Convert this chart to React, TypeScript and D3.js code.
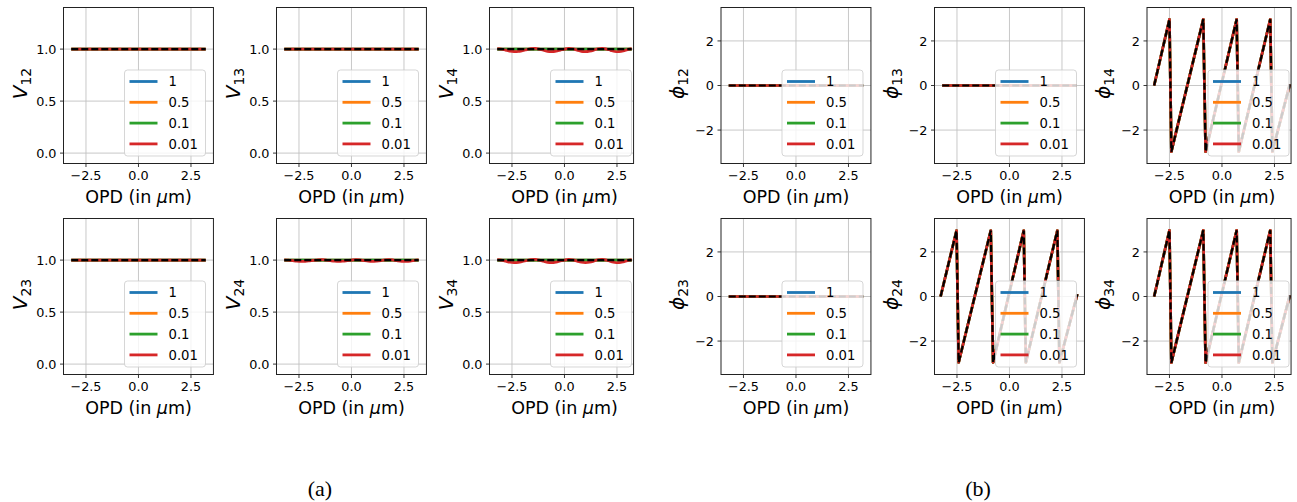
import React from 'react';
import * as d3 from 'd3';

// ---------- data ----------
const OPD = [-3.2, -3.0, -2.8, -2.6, -2.4, -2.2, -2.0, -1.8, -1.6, -1.4, -1.2, -1.0, -0.8, -0.6, -0.4, -0.2, 0.0,
  0.2, 0.4, 0.6, 0.8, 1.0, 1.2, 1.4, 1.6, 1.8, 2.0, 2.2, 2.4, 2.6, 2.8, 3.0, 3.2];

const V_ONE = [1, 1, 1, 1, 1, 1, 1, 1, 1, 1, 1, 1, 1, 1, 1, 1, 1, 1, 1, 1, 1, 1, 1, 1, 1, 1, 1, 1, 1, 1, 1, 1, 1];

const V14_RED = [1.005, 1.0, 0.99, 0.98, 0.975, 0.977, 0.985, 0.995, 1.005, 1.008, 1.0, 0.99, 0.978, 0.975, 0.98,
  0.99, 1.0, 1.008, 1.003, 0.99, 0.978, 0.975, 0.98, 0.99, 1.003, 1.008, 1.0, 0.988, 0.977, 0.975, 0.982, 0.995, 1.005];
const V24_RED = [1.003, 1.0, 0.995, 0.99, 0.987, 0.988, 0.992, 0.997, 1.003, 1.005, 1.0, 0.994, 0.989, 0.987, 0.99,
  0.995, 1.0, 1.005, 1.002, 0.995, 0.989, 0.987, 0.99, 0.995, 1.002, 1.005, 1.0, 0.993, 0.988, 0.987, 0.99, 0.997, 1.003];
const V34_RED = [1.004, 1.0, 0.99, 0.979, 0.975, 0.978, 0.986, 0.996, 1.005, 1.007, 1.0, 0.989, 0.978, 0.975, 0.981,
  0.991, 1.0, 1.007, 1.002, 0.99, 0.979, 0.975, 0.979, 0.99, 1.003, 1.007, 1.0, 0.987, 0.977, 0.975, 0.983, 0.995, 1.004];

const PHI_ZERO = [0, 0, 0, 0, 0, 0, 0, 0, 0, 0, 0, 0, 0, 0, 0, 0, 0, 0, 0, 0, 0, 0, 0, 0, 0, 0, 0, 0, 0, 0, 0, 0, 0];

const SAW14_X = [-3.23, -2.5, -2.41, -0.89, -0.78, 0.7, 0.8, 2.3, 2.4, 3.23];
const SAW14_Y = [0, 2.97, -2.97, 2.97, -2.97, 2.97, -2.97, 2.97, -2.97, 0.05];
const SAW24_X = [-3.28, -2.52, -2.42, -0.89, -0.78, 0.68, 0.78, 2.28, 2.38, 3.23];
const SAW24_Y = [0, 2.96, -2.96, 2.96, -2.96, 2.96, -2.96, 2.96, -2.96, 0.1];
const SAW34_X = [-3.23, -2.5, -2.41, -0.89, -0.78, 0.7, 0.8, 2.3, 2.4, 3.23];
const SAW34_Y = [0, 2.97, -2.97, 2.97, -2.97, 2.97, -2.97, 2.97, -2.97, 0.05];

const LEGEND_LABELS = ['1', '0.5', '0.1', '0.01'];
const SERIES_COLORS = ['#1f77b4', '#ff7f0e', '#2ca02c', '#d62728'];

const X_TICKS = [-2.5, 0, 2.5];
const X_TICK_LABELS = ['\u22122.5', '0.0', '2.5'];
const V_TICKS = [0, 0.5, 1.0];
const V_TICK_LABELS = ['0.0', '0.5', '1.0'];
const PHI_TICKS = [-2, 0, 2];
const PHI_TICK_LABELS = ['\u22122', '0', '2'];

type Panel = {
  id: string; kind: 'V' | 'phi'; sub: string; left: number; top: number; right: number; xmax: number;
  xs: number[]; colored: number[][]; truth: number[];
};

const ROW_TOPS = [7.5, 218.5];
const PANEL_H = 156;
const PX_PER_UNIT = 21;
const XMIN = -3.57;

function mk(id: string, kind: 'V' | 'phi', sub: string, left: number, row: number, third: boolean,
  xs: number[], colored: number[][], truth: number[]): Panel {
  const xmax = third ? 3.29 : 3.57;
  return { id, kind, sub, left, top: ROW_TOPS[row], right: left + (xmax - XMIN) * PX_PER_UNIT, xmax, xs, colored, truth };
}

const PANELS: Panel[] = [
  mk('v12', 'V', '12', 63.5, 0, false, OPD, [V_ONE, V_ONE, V_ONE, V_ONE], V_ONE),
  mk('v13', 'V', '13', 276.5, 0, false, OPD, [V_ONE, V_ONE, V_ONE, V_ONE], V_ONE),
  mk('v14', 'V', '14', 489.5, 0, true, OPD, [V_ONE, V_ONE, V_ONE, V14_RED], V_ONE),
  mk('v23', 'V', '23', 63.5, 1, false, OPD, [V_ONE, V_ONE, V_ONE, V_ONE], V_ONE),
  mk('v24', 'V', '24', 276.5, 1, false, OPD, [V_ONE, V_ONE, V_ONE, V24_RED], V_ONE),
  mk('v34', 'V', '34', 489.5, 1, true, OPD, [V_ONE, V_ONE, V_ONE, V34_RED], V_ONE),
  mk('p12', 'phi', '12', 721, 0, false, OPD, [PHI_ZERO, PHI_ZERO, PHI_ZERO, PHI_ZERO], PHI_ZERO),
  mk('p13', 'phi', '13', 934.5, 0, false, OPD, [PHI_ZERO, PHI_ZERO, PHI_ZERO, PHI_ZERO], PHI_ZERO),
  mk('p14', 'phi', '14', 1147, 0, true, SAW14_X, [SAW14_Y, SAW14_Y, SAW14_Y, SAW14_Y], SAW14_Y),
  mk('p23', 'phi', '23', 721, 1, false, OPD, [PHI_ZERO, PHI_ZERO, PHI_ZERO, PHI_ZERO], PHI_ZERO),
  mk('p24', 'phi', '24', 934.5, 1, false, SAW24_X, [SAW24_Y, SAW24_Y, SAW24_Y, SAW24_Y], SAW24_Y),
  mk('p34', 'phi', '34', 1147, 1, true, SAW34_X, [SAW34_Y, SAW34_Y, SAW34_Y, SAW34_Y], SAW34_Y),
];

const FONT = 'DejaVu Sans, sans-serif';

function PanelView({ p }: { p: Panel }) {
  const x = d3.scaleLinear().domain([XMIN, p.xmax]).range([p.left, p.right]);
  const yDomain = p.kind === 'V' ? [-0.1, 1.4] : [-3.5, 3.5];
  const bottom = p.top + PANEL_H;
  const y = d3.scaleLinear().domain(yDomain).range([bottom, p.top]);
  const yTicks = p.kind === 'V' ? V_TICKS : PHI_TICKS;
  const yLabels = p.kind === 'V' ? V_TICK_LABELS : PHI_TICK_LABELS;
  const smooth = p.kind === 'V';
  const line = (ys: number[]) => {
    const gen = d3.line<number>().x((_, i) => x(p.xs[i])).y((v) => y(v));
    if (smooth) gen.curve(d3.curveCatmullRom);
    return gen(ys) || '';
  };
  const clipId = `clip-${p.id}`;
  const legW = 81, legH = 86;
  const legX = p.left + 61;
  const legY = bottom - 7.5 - legH;
  const labelX = p.left - 37;
  const midY = p.top + PANEL_H / 2 - 2;
  return (
    <g>
      <defs>
        <clipPath id={clipId}>
          <rect x={p.left} y={p.top} width={p.right - p.left} height={PANEL_H} />
        </clipPath>
      </defs>
      {/* grid */}
      {X_TICKS.map((t) => (
        <line key={'gx' + t} x1={x(t)} x2={x(t)} y1={p.top} y2={bottom} stroke="#c2c2c2" strokeWidth={0.9} />
      ))}
      {yTicks.map((t) => (
        <line key={'gy' + t} x1={p.left} x2={p.right} y1={y(t)} y2={y(t)} stroke="#c2c2c2" strokeWidth={0.9} />
      ))}
      {/* data */}
      <g clipPath={`url(#${clipId})`} fill="none">
        {p.colored.map((ys, i) => (
          <path key={i} d={line(ys)} stroke={SERIES_COLORS[i]} strokeWidth={2.7} strokeLinejoin="round" />
        ))}
        <path d={line(p.truth)} stroke="#000" strokeWidth={2.2} strokeDasharray="7,3" />
      </g>
      {/* legend */}
      <g>
        <rect x={legX} y={legY} width={legW} height={legH} rx={3} fill="#fff" fillOpacity={0.8}
          stroke="#cccccc" strokeOpacity={0.8} strokeWidth={1} />
        {LEGEND_LABELS.map((lab, i) => {
          const cy = legY + 11.5 + i * 20.8;
          return (
            <g key={lab}>
              <line x1={legX + 5} x2={legX + 33} y1={cy} y2={cy} stroke={SERIES_COLORS[i]} strokeWidth={2.8} />
              <text x={legX + 44} y={cy} dy="0.36em" fontSize={13.2} fontFamily={FONT} fill="#000">{lab}</text>
            </g>
          );
        })}
      </g>
      {/* spines */}
      <rect x={p.left} y={p.top} width={p.right - p.left} height={PANEL_H} fill="none" stroke="#222" strokeWidth={1} />
      {/* x ticks */}
      {X_TICKS.map((t, i) => (
        <g key={'xt' + t}>
          <line x1={x(t)} x2={x(t)} y1={bottom} y2={bottom + 3.5} stroke="#222" strokeWidth={0.9} />
          <text x={x(t)} y={bottom + 16.8} textAnchor="middle" fontSize={12.8} fontFamily={FONT} fill="#000">
            {X_TICK_LABELS[i]}
          </text>
        </g>
      ))}
      {/* y ticks */}
      {yTicks.map((t, i) => (
        <g key={'yt' + t}>
          <line x1={p.left - 3.5} x2={p.left} y1={y(t)} y2={y(t)} stroke="#222" strokeWidth={0.9} />
          <text x={p.left - 7} y={y(t)} dy="0.36em" textAnchor="end" fontSize={12.8} fontFamily={FONT} fill="#000">
            {yLabels[i]}
          </text>
        </g>
      ))}
      {/* x label */}
      <text x={(p.left + p.left + 150) / 2} y={bottom + 39.5} textAnchor="middle" fontSize={17.5} fontFamily={FONT} fill="#000">
        OPD (in <tspan fontStyle="italic">{'\u03bc'}</tspan>m)
      </text>
      {/* y label */}
      <text transform={`translate(${labelX},${midY}) rotate(-90)`} textAnchor="middle" fontSize={20} fontFamily={FONT} fill="#000">
        <tspan fontStyle="italic">{p.kind === 'V' ? 'V' : '\u03d5'}</tspan>
        <tspan fontSize={14} dy={4}>{p.sub}</tspan>
      </text>
    </g>
  );
}

export default function App() {
  return (
    <svg width={1297} height={502} viewBox="0 0 1297 502"
      style={{ position: 'absolute', left: 0, top: 0, background: '#fff' }}>
      <rect x={0} y={0} width={1297} height={502} fill="#fff" />
      {PANELS.map((p) => <PanelView key={p.id} p={p} />)}
      <text x={320} y={496} textAnchor="middle" fontSize={22} fontFamily="Liberation Serif, serif">(a)</text>
      <text x={978} y={496} textAnchor="middle" fontSize={22} fontFamily="Liberation Serif, serif">(b)</text>
    </svg>
  );
}
